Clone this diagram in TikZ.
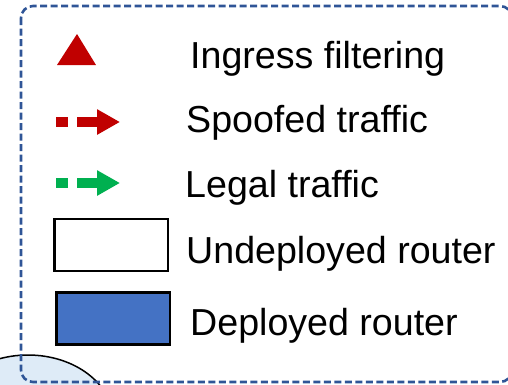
\documentclass[tikz,border=0pt]{standalone}
\usepackage{fontspec}
\setmainfont{Liberation Sans}
\usetikzlibrary{arrows.meta, positioning}

\definecolor{frameblue}{HTML}{2F5597}
\definecolor{spoofred}{HTML}{C00000}
\definecolor{legalgreen}{HTML}{00B050}
\definecolor{deployblue}{HTML}{4472C4}
\definecolor{cloudblue}{HTML}{DEEBF7}

\begin{document}
\begin{tikzpicture}[x=1pt, y=-1pt,
		legendtext/.style={anchor=base west, inner sep=0pt, font=\fontsize{37.6}{44}\selectfont},
		flow/.style={line width=10pt, dash pattern=on 12pt off 9pt on 40pt, -{Triangle[length=23pt, width=24pt]}},
		router/.style={draw=black, line width=2.5pt, minimum width=113.5pt, minimum height=52pt, inner sep=0pt}]
		
		\useasboundingbox (0,0) rectangle (508,384);
		\clip (0,0) rectangle (508,384);
		
		\filldraw[fill=cloudblue, draw=black, line width=1.5pt] (28,420) ellipse [x radius=85, y radius=65];
		
		\fill[spoofred] (57,65) -- (77,34) -- (96,65) -- cycle;
		\node[legendtext] (ingress) at (190,68) {Ingress filtering};
		
		\coordinate (s1) at (56,122);
		\coordinate (s2) at (120,122);
		\draw[flow, spoofred] (s1) -- (s2);
		\node[legendtext] (spoofed) at (186,132.5) {Spoofed traffic};
		
		\coordinate (l1) at (56,183);
		\coordinate (l2) at (120,183);
		\draw[flow, legalgreen] (l1) -- (l2);
		\node[legendtext] (legal) at (185,197) {Legal traffic};
		
		\node[router, fill=white] (undeployed) at (111,245) {};
		\node[legendtext] (undeployedtext) at (186,263) {Undeployed router};
		
		\node[router, fill=deployblue] (deployed) at (113,318.5) {};
		\node[legendtext] (deployedtext) at (190,335) {Deployed router};
		
		\draw[frameblue, line width=2.6pt, dash pattern=on 7pt off 3.5pt, rounded corners=12pt] (21,6) rectangle (512,382);
		
		\end{tikzpicture}
\end{document}
